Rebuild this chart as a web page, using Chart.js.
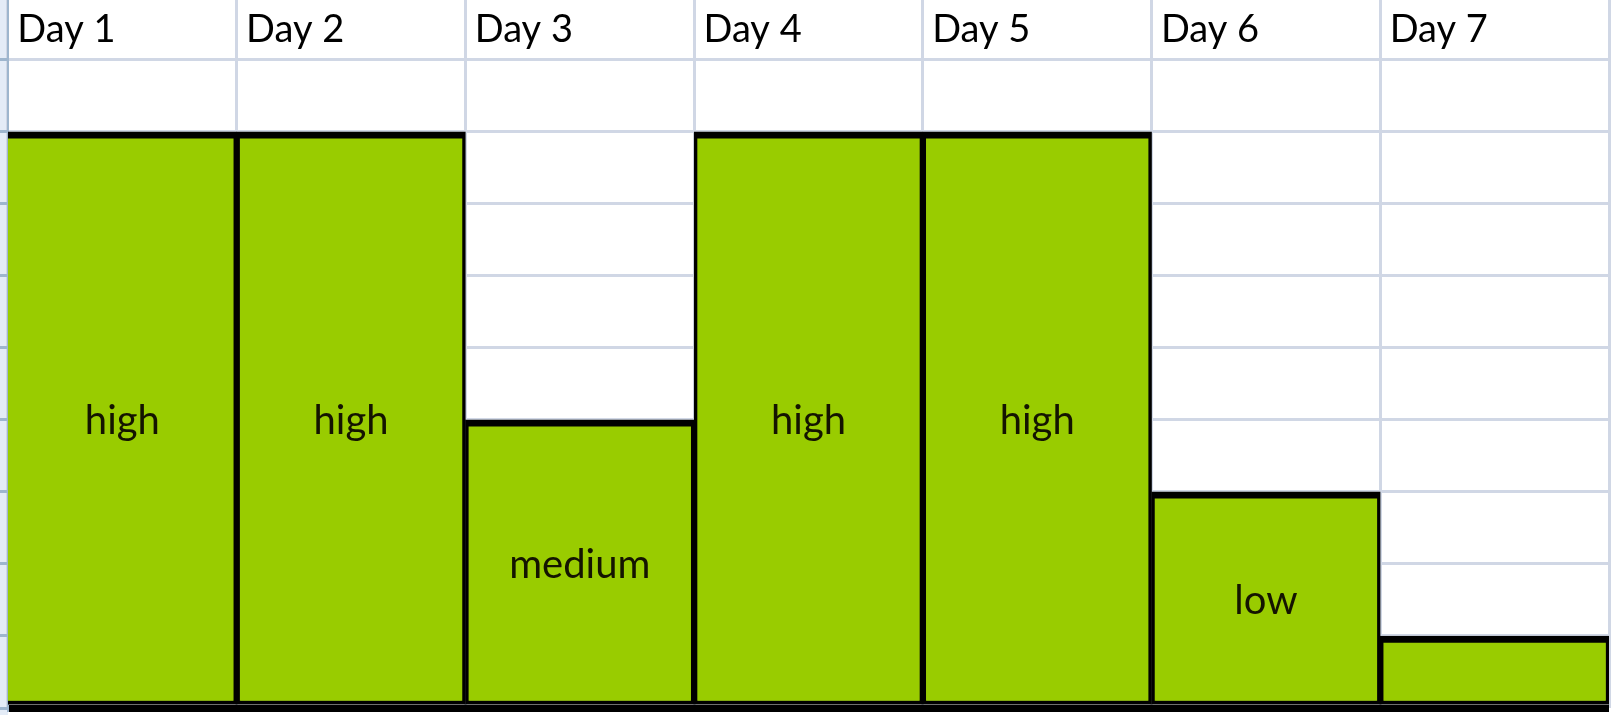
<!DOCTYPE html>
<html lang="en">
<head>
  <meta charset="UTF-8">
  <title>Daily levels</title>
  <script src="https://cdn.jsdelivr.net/npm/chart.js"></script>
  <style>
    body { margin: 0; background: #fff; }
    canvas { display: block; }
  </style>
</head>
<body>
  <canvas id="levelChart" width="1612" height="715"></canvas>
  <script>
    // data: bar height in rows, text shown in each bar
    const days = ['Day 1', 'Day 2', 'Day 3', 'Day 4', 'Day 5', 'Day 6', 'Day 7'];
    const rows = [8, 8, 4, 8, 8, 3, 1];
    const levels = ['high', 'high', 'medium', 'high', 'high', 'low', ''];
    const rowTicks = [0, 1, 2, 3, 4, 5, 6, 7, 8, 9];
    const yMax = 9.83; // header row is only partly visible

    const gridColor = '#d0d7e5';
    const headerBlue = '#e4ecf7';
    const headerLine = '#9eb6ce';
    const barGreen = '#99cc00';

    // white page + the cut off row header strip on the left
    const sheetBackground = {
      id: 'sheetBackground',
      beforeDraw(chart) {
        const { ctx, chartArea } = chart;
        ctx.save();
        ctx.fillStyle = '#fff';
        ctx.fillRect(0, 0, chart.width, chart.height);
        ctx.fillStyle = headerBlue;
        ctx.fillRect(0, 0, chartArea.left, chart.height);
        ctx.restore();
      }
    };

    // the word written in the middle of each bar
    const barText = {
      id: 'barText',
      afterDatasetsDraw(chart) {
        const { ctx } = chart;
        const meta = chart.getDatasetMeta(0);
        ctx.save();
        ctx.font = '40px Lato';
        ctx.fillStyle = '#141400';
        ctx.textAlign = 'center';
        ctx.textBaseline = 'middle';
        meta.data.forEach((bar, i) => {
          if (!levels[i]) return;
          ctx.fillText(levels[i], bar.x, (bar.y + bar.base) / 2 + 3);
        });
        ctx.restore();
      }
    };

    const chart = new Chart(document.getElementById('levelChart'), {
      type: 'bar',
      data: {
        labels: days,
        datasets: [{
          data: rows,
          backgroundColor: barGreen,
          borderColor: '#000',
          borderSkipped: false,
          borderWidth: (c) => ({ top: 7, right: 3.5, bottom: 4, left: c.dataIndex === 0 ? 0 : 3.5 }),
          barPercentage: 1,
          categoryPercentage: 1
        }]
      },
      options: {
        responsive: false,
        animation: false,
        layout: { padding: { top: 0, right: 3, bottom: 7, left: 0 } },
        plugins: {
          legend: { display: false },
          tooltip: { enabled: false }
        },
        scales: {
          x: {
            position: 'top',
            border: { display: false },
            grid: { color: gridColor, lineWidth: 3, drawTicks: false, offset: true },
            ticks: {
              mirror: true,
              padding: 0,
              align: 'start',
              labelOffset: -105,
              maxRotation: 0,
              autoSkip: false,
              color: '#000',
              font: { family: 'Lato', size: 38, lineHeight: 1.58 }
            }
          },
          y: {
            min: 0,
            max: yMax,
            afterBuildTicks: (axis) => {
              axis.ticks = rowTicks.map(v => ({ value: v }));
            },
            border: { color: headerLine, width: 2 },
            grid: {
              color: (c) => c.tick && c.tick.value === 0 ? '#000' : gridColor,
              lineWidth: (c) => c.tick && c.tick.value === 0 ? 7 : 3,
              tickColor: headerLine,
              tickWidth: 3,
              tickLength: 8
            },
            ticks: { display: false }
          }
        }
      },
      plugins: [sheetBackground, barText]
    });
  </script>
</body>
</html>
